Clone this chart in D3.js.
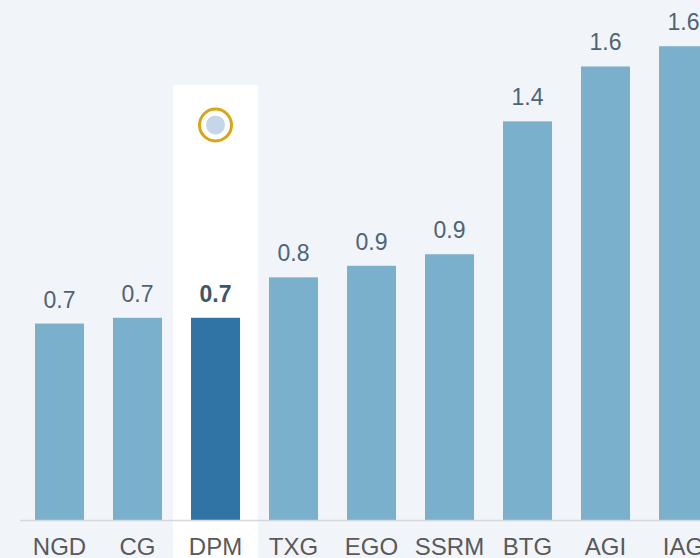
<!DOCTYPE html>
<html>
  <head>
    <script src='https://cdn.jsdelivr.net/npm/d3@7/dist/d3.min.js'></script>
    <style type='text/css'>
      body, html { margin: 0; padding: 0; background: #f1f5f9; }
      svg { display: block; }
    </style>
  </head>
  <body>
    <svg width='700' height='558' font-family='Liberation Sans, Arial, sans-serif'></svg>
    <script type='text/javascript'>
      var tickers = ['NGD', 'CG', 'DPM', 'TXG', 'EGO', 'SSRM', 'BTG', 'AGI', 'IAG']
      var values = [0.68, 0.70, 0.70, 0.84, 0.88, 0.92, 1.38, 1.57, 1.64]
      var highlight = 'DPM'

      var width = 700, height = 558
      var svg = d3.select('svg')

      svg.append('rect')
        .attr('width', width).attr('height', height)
        .attr('fill', '#f1f5f9')

      var x = d3.scaleBand()
        .domain(tickers)
        .range([20.5, 722.5])
        .paddingInner(0.372)
        .paddingOuter(0.186)

      var y = d3.scaleLinear()
        .domain([0, 1.8])
        .range([520, 0])

      var hx = x(highlight) + x.bandwidth() / 2

      // highlight column
      svg.append('rect')
        .attr('x', hx - 42.5)
        .attr('y', 85)
        .attr('width', 85)
        .attr('height', height - 85)
        .attr('fill', '#ffffff')

      // marker
      svg.append('circle')
        .attr('cx', hx).attr('cy', 125).attr('r', 16)
        .attr('fill', '#ffffff')
        .attr('stroke', '#d9a417')
        .attr('stroke-width', 3)
      svg.append('circle')
        .attr('cx', hx).attr('cy', 125).attr('r', 9.5)
        .attr('fill', '#c6d5e8')

      var data = tickers.map(function(t, i) { return {t: t, v: values[i]} })

      svg.selectAll('.bar')
        .data(data)
        .enter().append('rect')
          .attr('class', 'bar')
          .attr('x', function(d) { return x(d.t) })
          .attr('y', function(d) { return y(d.v) })
          .attr('width', x.bandwidth())
          .attr('height', function(d) { return y(0) - y(d.v) })
          .attr('fill', function(d) { return d.t === highlight ? '#2f74a5' : '#7ab0cc' })

      svg.selectAll('.val')
        .data(data)
        .enter().append('text')
          .attr('class', 'val')
          .attr('x', function(d) { return x(d.t) + x.bandwidth() / 2 })
          .attr('y', function(d) { return y(d.v) - 16 })
          .attr('text-anchor', 'middle')
          .attr('font-size', 23)
          .attr('font-weight', function(d) { return d.t === highlight ? 'bold' : 'normal' })
          .attr('fill', function(d) { return d.t === highlight ? '#3f566a' : '#4d6477' })
          .text(function(d) { return d3.format('.1f')(d.v) })

      // axis
      var axis = svg.append('g')
        .attr('transform', 'translate(0,' + y(0) + ')')
        .call(d3.axisBottom(x).tickSize(0).tickPadding(18))
      axis.select('.domain')
        .attr('d', 'M20,0.5H' + width)
        .attr('stroke', '#d5d8db')
        .attr('stroke-width', 1.5)
      axis.selectAll('text')
        .attr('font-size', 24)
        .attr('font-family', 'Liberation Sans, Arial, sans-serif')
        .attr('fill', '#595959')
    </script>
  </body>
</html>
